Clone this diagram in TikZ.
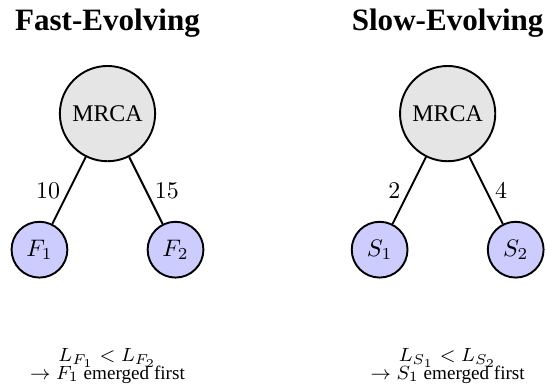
\documentclass[tikz,border=0pt]{standalone}
\usepackage[no-math]{fontspec}
\setmainfont{Liberation Serif}
\usetikzlibrary{positioning,calc}

\begin{document}
\begin{tikzpicture}[
  root/.style = {circle, draw, thick, fill=gray!20, minimum size=1.4cm, inner sep=1pt},
  leaf/.style = {circle, draw, thick, fill=blue!20, minimum size=0.82cm, inner sep=1pt},
  ttl/.style  = {font=\fontsize{13}{15}\selectfont\bfseries},
  note/.style = {align=center, font=\footnotesize},
  edge/.style = {thick},
  node distance = 2cm and 1cm
]

\useasboundingbox (-1.58,-3.96) rectangle (6.46,1.67);

% Fast-evolving tree
\node[root] (rf) at (0,0) {MRCA};
\node[ttl, above=8pt of rf] (tf) {Fast-Evolving};
\node[leaf, on grid, below left=2cm and 1cm of rf]  (f1) {$F_1$};
\node[leaf, on grid, below right=2cm and 1cm of rf] (f2) {$F_2$};
\draw[edge] (rf) -- node[midway, left]  {$10$} (f1);
\draw[edge] (rf) -- node[midway, right] {$15$} (f2);
\node[note, on grid, below=3.71cm of rf] (nf)
  {$L_{F_1} < L_{F_2}$\\[-2.2pt]$\rightarrow F_1$ emerged first};

% Slow-evolving tree
\node[root, on grid, right=5cm of rf] (rs) {MRCA};
\node[ttl, above=8pt of rs] (ts) {Slow-Evolving};
\node[leaf, on grid, below left=2cm and 1cm of rs]  (s1) {$S_1$};
\node[leaf, on grid, below right=2cm and 1cm of rs] (s2) {$S_2$};
\draw[edge] (rs) -- node[midway, left]  {$2$} (s1);
\draw[edge] (rs) -- node[midway, right] {$4$} (s2);
\node[note, on grid, below=3.71cm of rs] (ns)
  {$L_{S_1} < L_{S_2}$\\[-2.2pt]$\rightarrow S_1$ emerged first};

\end{tikzpicture}
\end{document}
